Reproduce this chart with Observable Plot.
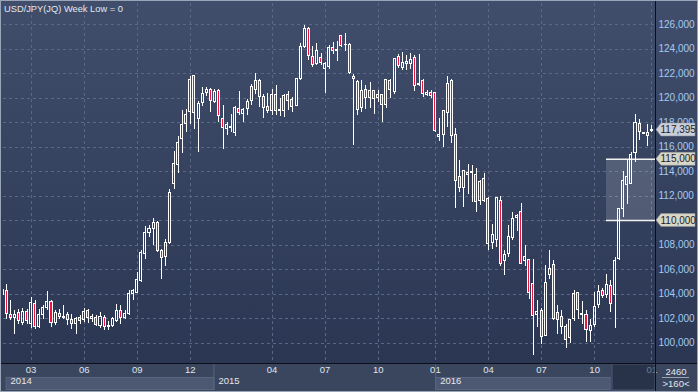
<!DOCTYPE html>
<html><head><meta charset="utf-8">
<script src="https://cdn.jsdelivr.net/npm/d3@7"></script>
<script src="https://cdn.jsdelivr.net/npm/@observablehq/plot@0.6"></script>
<style>
html,body{margin:0;padding:0;background:#2c3752;}
#chart{width:698px;height:392px;position:relative;}
#chart svg{display:block;}
</style></head><body><div id="chart"></div>
<script>
// Weekly USD/JPY candles (index 0..159), values in yen
const opens = [103.95,104.26,102.27,102.03,102.49,101.62,102.57,101.54,103.17,101.32,
102.27,102.90,103.36,101.62,102.41,102.08,102.27,101.86,101.54,102.03,
101.86,102.63,101.97,102.08,101.40,102.08,101.27,101.40,101.81,102.63,
102.08,102.35,104.04,104.12,105.07,107.31,109.02,109.35,109.78,107.52,
107.06,108.20,112.98,114.53,116.65,117.88,118.83,121.77,118.29,119.56,
120.38,120.68,119.70,120.60,118.29,117.47,117.55,117.12,119.10,118.69,
119.10,119.73,120.68,121.41,120.11,119.29,118.97,120.27,118.91,118.91,
120.24,119.84,119.37,121.55,124.19,125.63,123.32,122.78,123.27,122.37,
122.50,124.05,123.81,125.03,124.30,124.33,121.52,121.33,119.18,120.65,
120.00,120.54,120.00,120.24,119.43,121.41,120.46,123.37,122.45,122.78,
122.78,123.27,121.06,121.41,120.27,120.41,120.38,116.79,116.98,118.75,
121.41,116.98,113.58,112.65,113.71,113.85,113.74,111.62,113.39,111.76,
108.20,108.39,111.61,106.71,107.25,108.56,110.19,110.73,106.71,106.76,
104.80,102.27,102.63,100.59,105.54,106.38,102.44,102.16,101.27,100.45,
101.95,104.07,102.27,102.27,100.99,101.48,103.09,104.26,103.90,104.67,
103.90,106.84,110.93,112.91,113.02,115.50,117.86,117.05,117.16,117.32];
const highs = [104.40,104.80,103.44,102.63,102.76,102.84,102.76,103.71,103.44,102.76,
103.03,104.18,103.44,102.68,102.76,103.03,102.49,102.35,102.08,102.22,
102.84,102.76,102.35,102.22,102.49,102.22,101.76,102.08,103.17,103.03,
102.68,104.26,104.39,105.76,107.52,109.51,109.56,110.16,109.92,107.66,
108.42,112.56,115.62,116.84,119.02,119.10,121.74,121.82,119.70,120.87,
120.87,120.79,120.68,120.73,119.37,118.01,118.69,119.29,120.52,119.18,
119.92,121.09,122.04,121.55,120.27,120.38,120.73,121.01,120.00,120.27,
120.52,120.05,121.60,124.46,125.90,125.77,124.19,124.46,123.65,122.91,
124.27,124.54,124.60,125.09,125.31,124.49,121.96,121.47,121.41,121.01,
121.25,120.60,120.60,120.33,121.55,121.55,123.27,123.59,123.73,123.46,
123.67,123.51,123.59,121.55,120.65,120.65,120.46,118.37,119.02,121.74,
121.55,117.55,114.88,114.12,114.56,114.48,114.26,113.31,113.85,111.89,
109.70,111.88,111.93,107.52,109.56,110.65,110.52,111.41,107.93,106.84,
106.84,103.44,102.84,106.35,107.52,106.76,103.03,102.68,101.48,101.95,
104.31,104.12,103.36,102.68,101.95,104.12,104.67,104.45,105.56,105.07,
106.98,111.01,114.00,114.87,115.55,118.68,118.27,117.19,117.81,117.73];
const lows = [103.90,101.95,101.81,100.72,101.54,101.40,101.54,101.21,101.13,101.21,
101.95,102.68,101.27,101.40,101.95,101.95,101.40,101.13,100.72,101.48,
101.67,101.59,101.67,101.32,101.21,101.05,101.05,101.27,101.67,101.48,
101.95,102.22,103.50,104.04,104.94,106.84,108.61,107.93,107.39,105.21,
106.22,108.07,112.57,113.85,115.48,117.20,117.88,117.47,115.56,119.29,
120.11,118.83,119.59,118.01,115.84,116.93,117.20,116.84,118.56,118.01,
118.56,119.37,120.33,119.24,118.34,118.75,118.56,118.56,118.48,118.42,
119.02,118.83,119.29,121.47,124.08,123.10,122.50,122.64,122.69,120.38,
122.37,123.59,122.99,124.14,123.78,121.90,116.11,118.56,118.83,119.10,
119.18,118.69,119.65,118.01,119.18,119.97,120.33,122.45,122.29,122.23,
122.37,120.54,120.95,120.05,120.11,120.00,117.20,116.46,115.97,117.61,
116.30,111.02,112.30,111.08,112.11,111.48,110.67,111.21,111.48,107.59,
107.66,107.80,106.24,105.54,106.98,108.34,109.10,106.44,106.24,103.52,
98.95,101.27,99.90,100.50,105.21,101.81,100.72,100.72,99.58,99.96,
101.76,101.95,101.48,100.04,100.04,101.27,102.84,103.66,103.66,102.49,
101.18,106.76,110.24,111.33,112.97,114.73,116.50,117.00,116.01,117.18];
const closes = [104.30,102.35,102.03,102.27,101.76,102.57,101.76,103.25,101.27,102.27,
102.84,103.36,101.62,102.49,102.14,102.16,101.86,101.54,101.95,101.76,
102.54,102.03,102.14,101.48,102.14,101.27,101.40,101.95,102.63,102.03,
102.35,103.99,104.26,105.13,107.39,109.02,109.35,109.78,107.52,106.92,
108.15,112.29,114.61,116.33,117.80,118.61,121.47,118.78,119.51,120.33,
120.68,119.78,120.52,118.50,117.55,117.80,117.66,119.16,118.78,119.02,
119.70,120.87,121.41,120.11,119.18,118.97,120.27,118.91,119.02,120.19,
119.78,119.24,121.55,124.19,125.63,123.46,122.69,123.81,122.86,122.78,
124.05,123.81,123.92,124.22,124.35,122.01,121.69,119.02,120.60,120.00,
120.60,119.92,120.24,119.43,121.47,120.65,123.18,122.64,122.86,122.91,
123.13,120.95,121.14,120.33,120.41,120.14,117.28,116.98,118.91,121.14,
116.93,113.20,112.65,114.07,113.85,113.93,111.54,113.12,111.62,108.08,
108.80,111.82,106.49,107.17,108.67,110.11,110.38,106.49,107.03,104.12,
102.22,102.54,100.53,104.88,106.03,101.95,101.89,101.27,100.23,101.86,
103.99,102.68,102.35,101.05,101.40,102.95,104.18,103.85,104.72,103.17,
106.71,110.93,113.24,113.56,115.36,117.95,117.27,117.16,116.94,117.395];

const priceTicks = [100,102,104,106,108,110,112,114,116,118,120,122,124,126];
const monthTickIdx = [7,20,33,46,66,79,92,106,119,132,145,159];
const monthTickLabels = ["03","06","09","12","04","07","10","01","04","07","10","01"];
const yearLabels = ["2014","2015","2016"];
const yearStartIdx = [1,51.9,106.2];
const yearEndIdx = [51.9,106.2,148.9];
const yearShaded = [true,false,true];
const lastPrice = 117.395;
const zoneLevels = [115,110];
const zoneStartIdx = 147.9;
const viewStartIdx = 149.4;
const totalBars = "2460";
const visibleBars = ">160<";
const titleText = "USD/JPY(JQ) Week Low = 0";

const xDomain = [0.245, 159.9];
const yDomain = [98.33, 127.72];
const FONT = "'Liberation Sans', Arial, sans-serif";
const RED = "#e8163f";
const GRID = "#5a6785";
const fmt = v => d3.format(".3f")(v).replace(".", ",");

const candles = opens.map((o, i) => ({i, o, h: highs[i], l: lows[i], c: closes[i]}));
const monthTicks = monthTickIdx.map((i, k) => ({i, label: monthTickLabels[k]}));
const years = yearLabels.map((y, k) => ({year: y, start: yearStartIdx[k], end: yearEndIdx[k], shaded: yearShaded[k]}));
const zone = [{x1: zoneStartIdx, x2: xDomain[1], y1: zoneLevels[1], y2: zoneLevels[0]}];
const zoneLines = zoneLevels.map(v => ({v, x1: zoneStartIdx, x2: xDomain[1]}));
// tick labels that sit exactly under a level box are covered by it
const tickLabels = priceTicks.filter(v => !zoneLevels.includes(v));

const chart = Plot.plot({
  width: 698, height: 392,
  marginLeft: 3, marginRight: 43, marginTop: 3, marginBottom: 29,
  style: {background: "transparent", fontFamily: FONT, overflow: "visible"},
  x: {type: "linear", domain: xDomain, axis: null},
  y: {type: "linear", domain: yDomain, axis: null},
  marks: [
    Plot.ruleY(priceTicks, {stroke: GRID, strokeDasharray: "3,3", shapeRendering: "crispEdges"}),
    Plot.ruleX(monthTickIdx, {stroke: GRID, strokeDasharray: "3,3", shapeRendering: "crispEdges"}),
    Plot.rect(zone, {x1: "x1", x2: "x2", y1: "y1", y2: "y2", fill: "#ffffff", fillOpacity: 0.15}),
    Plot.ruleY(zoneLines, {y: "v", x1: "x1", x2: "x2", stroke: "#f2f2f2", strokeWidth: 1.5}),
    Plot.ruleX(candles, {x: "i", y1: "h", y2: d => Math.max(d.o, d.c), stroke: "#ffffff", strokeWidth: 1, shapeRendering: "crispEdges", clip: true}),
    Plot.ruleX(candles, {x: "i", y1: d => Math.min(d.o, d.c), y2: "l", stroke: "#ffffff", strokeWidth: 1, shapeRendering: "crispEdges", clip: true}),
    Plot.rect(candles, {x1: d => d.i - 0.25, x2: d => d.i + 0.25, y1: "o", y2: "c",
      fill: d => d.c < d.o ? RED : "none", stroke: "#ffffff", strokeWidth: 1, shapeRendering: "crispEdges", clip: true}),
    Plot.text(tickLabels, {y: d => d, frameAnchor: "right", dx: 3, textAnchor: "start", text: fmt, fill: "#a6caf0", fontSize: 10}),
    Plot.text(monthTicks, {x: "i", text: "label", frameAnchor: "bottom", dy: 9, fill: "#dfe5ee", fontSize: 9.5}),
    Plot.text(years, {x: "start", text: "year", frameAnchor: "bottom", dy: 20, dx: 4, textAnchor: "start", fill: "#e4e8ee", fontSize: 9.5})
  ]
});

const svg = d3.select(chart);
const xs = chart.scale("x"), ys = chart.scale("y");
const X = v => xs.apply(v), Y = v => ys.apply(v);

// backgrounds (inserted behind the marks)
const defs = svg.insert("defs", ":first-child");
const g = defs.append("linearGradient").attr("id", "bgGrad").attr("x1", 0).attr("y1", 0).attr("x2", 0).attr("y2", 1);
g.append("stop").attr("offset", "0%").attr("stop-color", "#414e6b");
g.append("stop").attr("offset", "100%").attr("stop-color", "#2a3652");
const bg = svg.insert("g", "defs + *");
bg.append("rect").attr("x", 0).attr("y", 0).attr("width", 698).attr("height", 364).attr("fill", "url(#bgGrad)");
bg.append("rect").attr("x", 0).attr("y", 364).attr("width", 698).attr("height", 28).attr("fill", "#3a455e");
years.filter(d => d.shaded).forEach(d => {
  bg.append("rect").attr("x", X(d.start)).attr("y", 377.5).attr("width", X(d.end) - X(d.start)).attr("height", 12)
    .attr("fill", "#4c5871").attr("stroke", "#5a6680");
});
years.slice(1).forEach(d => {
  bg.append("line").attr("x1", X(d.start)).attr("x2", X(d.start)).attr("y1", 364).attr("y2", 390).attr("stroke", "#58637d");
});

// overlays on top
const fg = svg.append("g").attr("text-anchor", "start");
fg.append("rect").attr("x", X(viewStartIdx)).attr("y", 364).attr("width", 655 - X(viewStartIdx)).attr("height", 26)
  .attr("fill", "#1a2238").attr("fill-opacity", 0.55).attr("stroke", "#4a5570");
fg.append("line").attr("x1", 655.5).attr("x2", 655.5).attr("y1", 0).attr("y2", 392).attr("stroke", "#0b0f18");
fg.append("line").attr("x1", 0).attr("x2", 698).attr("y1", 363.5).attr("y2", 363.5).attr("stroke", "#0b0f18");
fg.append("line").attr("x1", 662).attr("x2", 689).attr("y1", 377.5).attr("y2", 377.5).attr("stroke", "#9aa3b3");
fg.append("text").attr("x", 676).attr("y", 374.5).attr("text-anchor", "middle").attr("fill", "#e2e6ec")
  .attr("font-size", 9.5).attr("font-family", FONT).text(totalBars);
fg.append("text").attr("x", 676).attr("y", 387).attr("text-anchor", "middle").attr("fill", "#e2e6ec")
  .attr("font-size", 9.5).attr("font-family", FONT).text(visibleBars);

function priceBox(v, fill) {
  const y = Y(v);
  fg.append("path").attr("d", `M656,${y} L661,${y - 6.5} L695,${y - 6.5} L695,${y + 6.5} L661,${y + 6.5} Z`)
    .attr("fill", fill).attr("stroke", "#8f96a3").attr("stroke-width", 0.5);
  fg.append("text").attr("x", 660.5).attr("y", y).attr("dy", "0.35em").attr("text-anchor", "start").attr("fill", "#1d2230")
    .attr("font-size", 10).attr("font-family", FONT).text(fmt(v));
}
zoneLevels.forEach(v => priceBox(v, "#d8d6c4"));
priceBox(lastPrice, "#c9ced7");

fg.append("text").attr("x", 4).attr("y", 11.5).attr("text-anchor", "start").attr("fill", "#e3e7ee").attr("font-size", 9.3)
  .attr("font-family", FONT).text(titleText);
// outer frame
fg.append("rect").attr("x", 0.5).attr("y", 0.5).attr("width", 697).attr("height", 391)
  .attr("fill", "none").attr("stroke", "#9aa5b7");

document.getElementById("chart").appendChild(chart);
</script></body></html>
